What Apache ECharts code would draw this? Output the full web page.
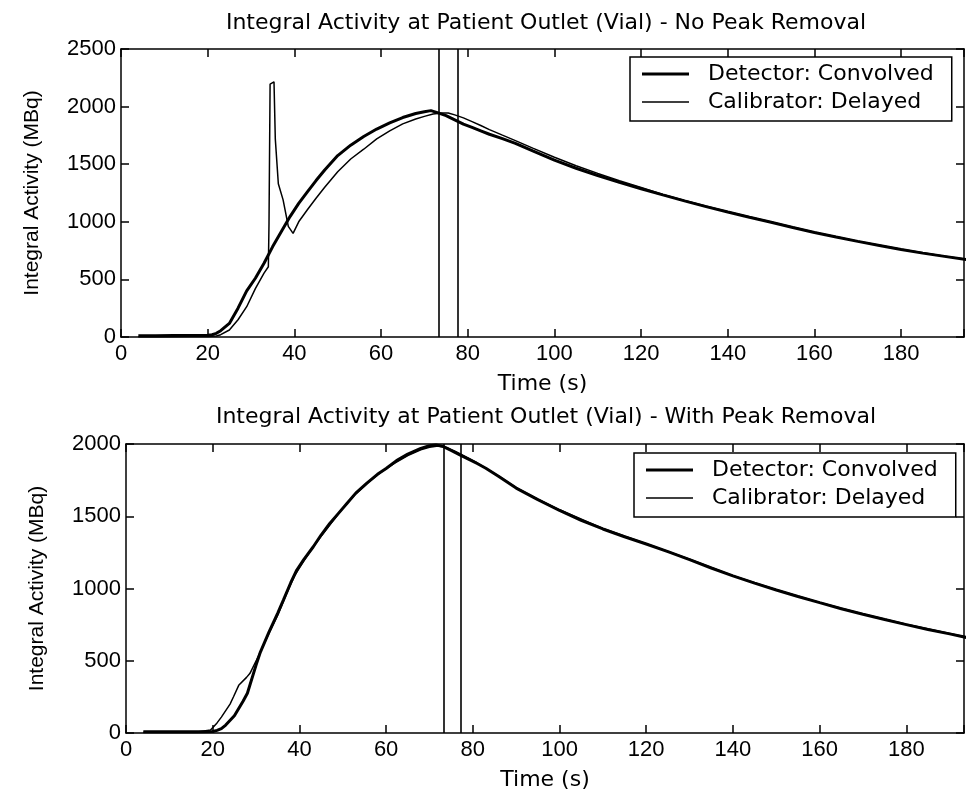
<!DOCTYPE html>
<html><head><meta charset="utf-8">
<script src="https://cdn.jsdelivr.net/npm/echarts@6/dist/echarts.min.js"></script>
<style>html,body{margin:0;padding:0;background:#fff}#c{width:967px;height:794px}</style>
</head><body><div id="c"></div>
<script>
// ---- data ----
const seriesNames = ['Detector: Convolved', 'Calibrator: Delayed'];
const titles = ['Integral Activity at Patient Outlet (Vial) - No Peak Removal',
                'Integral Activity at Patient Outlet (Vial) - With Peak Removal'];
const xName = 'Time (s)';
const yName = 'Integral Activity (MBq)';

// top panel: No Peak Removal
const tTopDet = [4,8,12,16,20,21,22,23,25,27,29,31,33,35,37,39,41,43,45,47,50,53,56,59,62,65,68,70,71.5,73,75,77,79,81,83,85,88,91,95,100,105,110,115,120,125,130,135,140,145,150,155,160,165,170,175,180,185,190,195];
const vTopDet = [10,10,12,12,15,20,32,55,118,250,400,510,640,785,915,1045,1160,1260,1358,1450,1575,1665,1740,1805,1858,1905,1940,1955,1965,1948,1922,1885,1848,1820,1790,1760,1722,1680,1615,1535,1465,1402,1342,1287,1234,1182,1132,1085,1040,996,950,907,868,830,795,760,728,700,672];
const tTopCal = [4,8,12,16,20,22,23,25,27,29,31,33,34,34.15,34.4,35.3,35.6,36.3,37.4,38.6,39.7,41,43,45,47,50,53,56,59,62,65,68,70,72,74,75.5,77,79,81,83,85,88,91,95,100,105,110,115,120,125,130,140,150,160,170,180,190,195];
const vTopCal = [3,3,3,5,5,8,20,61,150,263,420,555,610,990,2195,2215,1720,1330,1190,960,900,1000,1105,1205,1300,1435,1545,1630,1720,1790,1850,1893,1915,1935,1945,1945,1928,1902,1870,1836,1800,1752,1705,1640,1560,1486,1420,1356,1297,1238,1186,1088,998,909,832,762,702,674];
const markersTop = [73.4, 77.6];

// bottom panel: With Peak Removal
const tBotDet = [4,8,12,16,20,21,22,23,25,27,28,30,31,33,35,36.3,38,39.4,41,43.2,45,47,49,51,53,55.5,58,60,62.4,65,68,70,71.5,73,75,77,79,81,83,86,90,95,100,105,110,115,120,125,130,135,140,145,150,155,160,165,170,175,180,185,190,194];
const vBotDet = [8,8,8,8,10,18,30,55,120,220,275,470,560,700,830,920,1040,1128,1200,1289,1370,1450,1520,1590,1660,1728,1790,1830,1885,1930,1970,1988,1993,1985,1955,1925,1895,1865,1832,1775,1695,1615,1540,1472,1412,1358,1308,1255,1200,1142,1087,1037,990,945,902,860,822,785,750,716,686,660];
const tBotCal = [4,8,12,16,19.5,21,22,24,24.8,26,27.8,28.6,30.1,33,35,37,39,41,43,45,47,50,53,56,59,62,65,68,70,72,74,76,78,81,86,90,95,100,110,120,130,140,150,160,170,180,190,194];
const vBotCal = [5,5,5,5,20,70,110,200,251,330,385,413,505,690,815,960,1095,1190,1280,1362,1440,1555,1655,1738,1808,1868,1920,1960,1978,1986,1976,1948,1918,1870,1778,1698,1618,1545,1415,1310,1202,1089,992,904,824,752,688,662];
const markersBot = [73.2, 77.3];

// axis ranges
const xMaxTop = 194.5, xMaxBot = 193.3, xStep = 20;
const yMaxTop = 2500, yMaxBot = 2000, yStep = 500;

// ---- chart ----
const chart = echarts.init(document.getElementById('c'), null, {renderer: 'canvas'});
const pairs = (t, v) => t.map((x, i) => [x, v[i]]);
const FH = "'DejaVu Sans', sans-serif";
const FN = "'Liberation Sans', Arial, sans-serif";
const BLACK = '#000';
const lineSt = {color: BLACK, width: 1.5};

function xAxisDef(g, max, pos) {
  const bottom = pos === 'bottom';
  return {
    type: 'value', gridIndex: g, min: 0, max: max, interval: xStep, position: pos,
    axisLine: {show: true, onZero: false, lineStyle: lineSt},
    axisTick: {show: true, inside: true, length: 8, lineStyle: lineSt},
    axisLabel: {show: bottom, color: BLACK, fontFamily: FN, fontSize: 22, margin: 6,
      formatter: v => (Math.abs(v % xStep) < 1e-6 ? String(v) : '')},
    splitLine: {show: false},
    name: bottom ? xName : '', nameLocation: 'middle', nameGap: 36,
    nameTextStyle: {color: BLACK, fontFamily: FH, fontSize: 22}
  };
}
function yAxisDef(g, max, pos) {
  const left = pos === 'left';
  return {
    type: 'value', gridIndex: g, min: 0, max: max, interval: yStep, position: pos,
    axisLine: {show: true, onZero: false, lineStyle: lineSt},
    axisTick: {show: true, inside: true, length: 8, lineStyle: lineSt},
    axisLabel: {show: left, color: BLACK, fontFamily: FN, fontSize: 22, margin: 5,
      formatter: v => String(v)},
    splitLine: {show: false},
    name: left ? yName : '', nameLocation: 'middle', nameRotate: 90, nameGap: 78,
    nameTextStyle: {color: BLACK, fontFamily: FN, fontSize: 21}
  };
}
function lineSeries(name, data, xi, yi, w, markers) {
  const s = {
    name: name, type: 'line', xAxisIndex: xi, yAxisIndex: yi, data: data,
    showSymbol: false, symbol: 'none', animation: false,
    lineStyle: {color: BLACK, width: w}, itemStyle: {color: BLACK}
  };
  if (markers) {
    s.markLine = {silent: true, symbol: 'none', animation: false,
      label: {show: false}, lineStyle: {color: BLACK, width: 1.6, type: 'solid'},
      data: markers.map(m => ({xAxis: m}))};
  }
  return s;
}
const iconThick = 'path://M0,0L0.01,0M0,5.5H47V8.5H0ZM47,14L46.99,14';
const iconThin = 'path://M0,0L0.01,0M0,6.25H47V7.75H0ZM47,14L46.99,14';
function legendDef(left, top) {
  return {
    data: [{name: seriesNames[0], icon: iconThick}, {name: seriesNames[1], icon: iconThin}],
    orient: 'vertical', left: left, top: top,
    itemWidth: 47, itemHeight: 14, itemGap: 6,
    padding: [6, 18, 8, 12],
    backgroundColor: '#fff', borderColor: BLACK, borderWidth: 1.5, borderRadius: 0,
    formatter: n => '  ' + n,
    itemStyle: {color: BLACK, borderWidth: 0},
    lineStyle: {width: 0},
    textStyle: {color: BLACK, fontFamily: FH, fontSize: 22},
    selectedMode: false
  };
}

chart.setOption({
  backgroundColor: '#fff',
  animation: false,
  title: [
    {text: titles[0], left: 541, top: 7, textAlign: 'center',
     textStyle: {color: BLACK, fontFamily: FH, fontSize: 22, fontWeight: 'normal'}},
    {text: titles[1], left: 541, top: 401, textAlign: 'center',
     textStyle: {color: BLACK, fontFamily: FH, fontSize: 22, fontWeight: 'normal'}}
  ],
  grid: [
    {left: 121, top: 49, width: 843, height: 288, containLabel: false},
    {left: 126, top: 444, width: 838, height: 289, containLabel: false}
  ],
  xAxis: [xAxisDef(0, xMaxTop, 'bottom'), xAxisDef(0, xMaxTop, 'top'),
          xAxisDef(1, xMaxBot, 'bottom'), xAxisDef(1, xMaxBot, 'top')],
  yAxis: [yAxisDef(0, yMaxTop, 'left'), yAxisDef(0, yMaxTop, 'right'),
          yAxisDef(1, yMaxBot, 'left'), yAxisDef(1, yMaxBot, 'right')],
  legend: [legendDef(630, 57), legendDef(634, 453)],
  series: [
    lineSeries(seriesNames[0], pairs(tTopDet, vTopDet), 0, 0, 3, markersTop),
    lineSeries(seriesNames[1], pairs(tTopCal, vTopCal), 0, 0, 1.5, null),
    lineSeries(seriesNames[0], pairs(tBotDet, vBotDet), 2, 2, 3, markersBot),
    lineSeries(seriesNames[1], pairs(tBotCal, vBotCal), 2, 2, 1.5, null)
  ]
});
</script></body></html>
